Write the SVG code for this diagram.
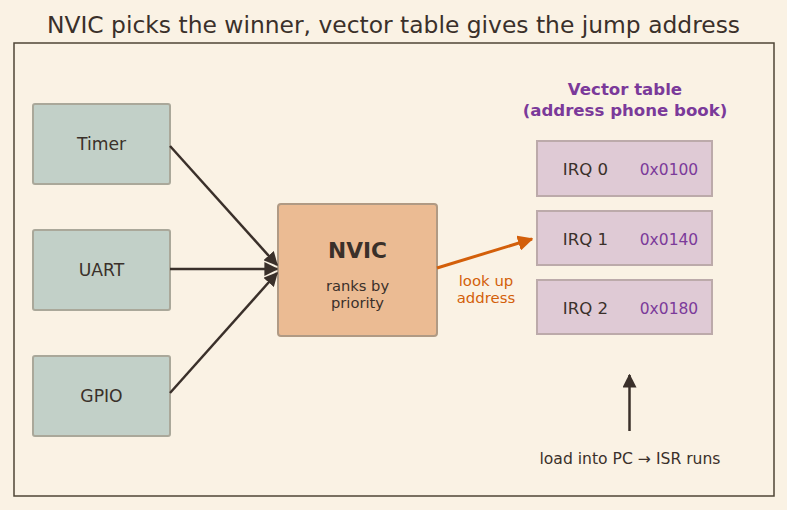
<svg xmlns="http://www.w3.org/2000/svg" width="787" height="510" viewBox="0 0 787 510">
<defs>
<style>
text{font-family:"DejaVu Sans","Liberation Sans",sans-serif}
.src rect{fill:#c2d0c8;stroke:#aaa89a;stroke-width:2}
.src text{font-size:17.2px;fill:#3a302a;text-anchor:middle}
.irq rect{fill:#dfcad5;stroke:#bcaaaa;stroke-width:2}
.irq .k{font-size:16.6px;fill:#3a302a;text-anchor:middle}
.irq .v{font-size:15.5px;fill:#7b3a9a;text-anchor:middle}
.ln{stroke:#3a302a;stroke-width:2.5;fill:none}
</style>
<marker id="ah" viewBox="0 0 10 10" refX="9" refY="5" markerWidth="5.6" markerHeight="5.6" orient="auto" markerUnits="strokeWidth"><path d="M0,0 L10,5 L0,10 Z" fill="#3a302a"/></marker>
<marker id="ao" viewBox="0 0 10 10" refX="9" refY="5" markerWidth="5.2" markerHeight="5.2" orient="auto" markerUnits="strokeWidth"><path d="M0,0 L10,5 L0,10 Z" fill="#d35f0a"/></marker>
</defs>
<rect width="787" height="510" fill="#faf2e4"/>
<text x="393.5" y="33" font-size="23.4" fill="#3a302a" text-anchor="middle">NVIC picks the winner, vector table gives the jump address</text>
<rect x="14" y="43" width="760" height="453" fill="none" stroke="#4f4536" stroke-width="1.5"/>
<g id="timer" class="src"><rect x="33" y="104" width="137" height="80" rx="2"/><text x="101.5" y="149.5">Timer</text></g>
<g id="uart" class="src"><rect x="33" y="230" width="137" height="80" rx="2"/><text x="101.5" y="275.5">UART</text></g>
<g id="gpio" class="src"><rect x="33" y="356" width="137" height="80" rx="2"/><text x="101.5" y="401.5">GPIO</text></g>
<g id="nvic"><rect x="278" y="204" width="159" height="132" rx="3" fill="#ebbb93" stroke="#b09a84" stroke-width="2"/>
<text x="357.5" y="258" font-size="21.7" font-weight="bold" fill="#3a302a" text-anchor="middle">NVIC</text>
<text x="357.5" y="291" font-size="14.7" fill="#3a302a" text-anchor="middle">ranks by</text>
<text x="357.5" y="308" font-size="14.7" fill="#3a302a" text-anchor="middle">priority</text></g>
<g id="vtitle"><text x="625" y="95" font-size="16.6" font-weight="bold" fill="#7b3a9a" text-anchor="middle">Vector table</text>
<text x="625" y="116" font-size="16.6" font-weight="bold" fill="#7b3a9a" text-anchor="middle">(address phone book)</text></g>
<g id="irq0" class="irq"><rect x="537" y="141" width="175" height="55"/><text class="k" x="585.5" y="174.5">IRQ 0</text><text class="v" x="669" y="174.5">0x0100</text></g>
<g id="irq1" class="irq"><rect x="537" y="211" width="175" height="54"/><text class="k" x="585.5" y="244.5">IRQ 1</text><text class="v" x="669" y="244.5">0x0140</text></g>
<g id="irq2" class="irq"><rect x="537" y="280" width="175" height="54"/><text class="k" x="585.5" y="313.5">IRQ 2</text><text class="v" x="669" y="313.5">0x0180</text></g>
<g id="connectors">
<line class="ln" x1="170" y1="146" x2="277" y2="265" marker-end="url(#ah)"/>
<line class="ln" x1="170" y1="269" x2="277" y2="269" marker-end="url(#ah)"/>
<line class="ln" x1="170" y1="393" x2="277" y2="273" marker-end="url(#ah)"/>
<line x1="437" y1="268" x2="532" y2="239" stroke="#d35f0a" stroke-width="3" marker-end="url(#ao)"/>
<line class="ln" x1="629.5" y1="431" x2="629.5" y2="375" marker-end="url(#ah)"/>
</g>
<text x="486" y="285.5" font-size="14.9" fill="#d35f0a" text-anchor="middle">look up</text>
<text x="486" y="302.5" font-size="14.9" fill="#d35f0a" text-anchor="middle">address</text>
<text x="630" y="463.5" font-size="15.6" fill="#3a302a" text-anchor="middle">load into PC → ISR runs</text>
</svg>
